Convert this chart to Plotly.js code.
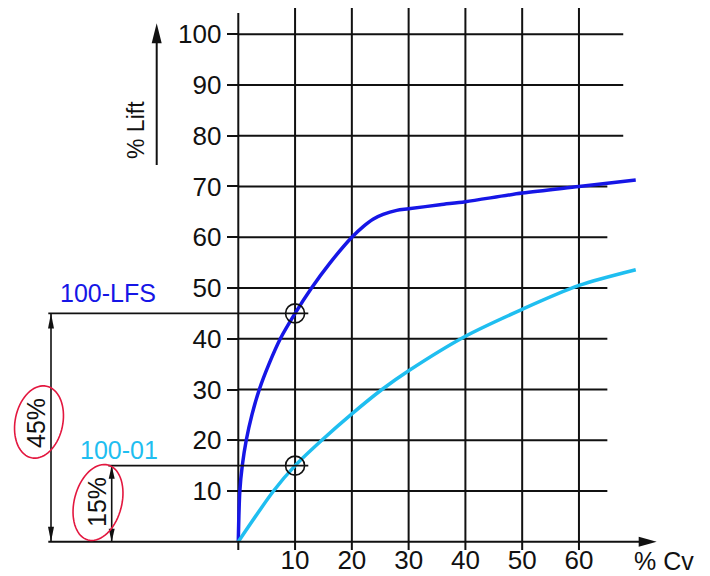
<!DOCTYPE html>
<html><head><meta charset="utf-8">
<script src="https://cdn.plot.ly/plotly-3.0.1.min.js"></script>
<style>html,body{margin:0;padding:0;background:#fff}#chart{width:710px;height:576px}</style>
</head><body><div id="chart"></div>
<script>
// ---- data ----
const seriesNames = ['100-LFS', '100-01'];
const cvLFS   = [0, 0.27, 0.7, 1.4, 2.4, 3.7, 5.4, 7.4, 10, 12.9, 16.2, 20, 22, 23.8, 25.5, 27.9, 30, 35.5, 40, 50, 60, 70];
const liftLFS = [0, 10, 15, 20, 25, 30, 35, 40, 45, 50, 55, 60, 62.1, 63.6, 64.5, 65.3, 65.6, 66.4, 67.0, 68.7, 70, 71.3];
const cv01    = [0, 6.2, 10, 14.7, 20, 25.3, 30, 40, 50, 60, 70];
const lift01  = [0, 10, 15, 20, 25.2, 30, 33.7, 40.5, 45.8, 50.5, 53.6];
const markCv   = [10, 10];
const markLift = [45, 15];
const spanLabels = ['45%', '15%'];
const xTicks    = [0, 10, 20, 30, 40, 50, 60];
const xTickText = ['', '10', '20', '30', '40', '50', '60'];
const yTicks    = [10, 20, 30, 40, 50, 60, 70, 80, 90, 100];
const yTickText = ['10', '20', '30', '40', '50', '60', '70', '80', '90', '100'];
const xTitle = '% Cv';
const yTitle = '% Lift';

// ---- geometry ----
const W = 710, H = 576;
const XMIN = -41.97, XMAX = 83.08, YMIN = -6.74, YMAX = 106.74;
const KX = W / (XMAX - XMIN), KY = H / (YMAX - YMIN);
const px = p => XMIN + p / KX;   // pixel x -> data x
const py = p => YMAX - p / KY;   // pixel y -> data y
const BLK = '#111111', BLUE = '#1616e6', CYAN = '#1fbef0', RED = '#e3173f';
const FONT = '"Liberation Sans", Arial, Helvetica, sans-serif';

const shapes = [];
function line(x0, y0, x1, y1, w, layer) {
  shapes.push({type: 'line', xref: 'x', yref: 'y', x0, y0, x1, y1,
    line: {color: BLK, width: w}, layer: layer || 'above'});
}
function tri(tx, ty, dir, len, wid) {
  const lx = len / KX, ly = len / KY, wx = wid / 2 / KX, wy = wid / 2 / KY;
  let pts;
  if (dir === 'right') pts = [[tx, ty], [tx - lx, ty + wy], [tx - lx, ty - wy]];
  if (dir === 'up')    pts = [[tx, ty], [tx - wx, ty - ly], [tx + wx, ty - ly]];
  if (dir === 'down')  pts = [[tx, ty], [tx - wx, ty + ly], [tx + wx, ty + ly]];
  shapes.push({type: 'path', xref: 'x', yref: 'y',
    path: 'M' + pts.map(p => p[0] + ',' + p[1]).join('L') + 'Z',
    fillcolor: BLK, line: {width: 0}});
}
function ellipse(cx, cy, a, b, deg) {
  const th = deg * Math.PI / 180;
  const ux = Math.sin(th), uy = -Math.cos(th), vx = Math.cos(th), vy = Math.sin(th);
  let d = '';
  for (let i = 0; i <= 72; i++) {
    const t = i / 72 * 2 * Math.PI;
    const X = cx + a * Math.cos(t) * ux + b * Math.sin(t) * vx;
    const Y = cy + a * Math.cos(t) * uy + b * Math.sin(t) * vy;
    d += (i ? 'L' : 'M') + px(X) + ',' + py(Y);
  }
  shapes.push({type: 'path', xref: 'x', yref: 'y', path: d + 'Z',
    line: {color: RED, width: 1.6}});
}

// grid
yTicks.forEach(v => line(0, v, v >= 80 ? 67.8 : 65, v, 2, 'below'));
xTicks.forEach(x => line(x, py(550), x, x === 0 ? py(13) : py(8), 2, 'below'));
// x axis with arrow
line(px(48.3), 0, px(656.7) - 16 / KX, 0, 2);
tri(px(656.7), 0, 'right', 18, 10);
// y title arrow
line(px(156.7), py(165), px(156.7), py(23.3) - 18 / KY, 2);
tri(px(156.7), py(23.3), 'up', 20, 10);
// dimension lines
line(px(48.3), markLift[0], px(308.3), markLift[0], 1.6);
line(px(51), 0, px(51), markLift[0], 1.6);
tri(px(51), markLift[0], 'up', 15, 6);
tri(px(51), 0, 'down', 15, 6);
line(px(108.3), markLift[1], px(308.3), markLift[1], 1.6);
line(px(111.7), 0, px(111.7), markLift[1], 1.6);
tri(px(111.7), markLift[1], 'up', 13, 6);
tri(px(111.7), 0, 'down', 13, 6);
// red ellipses
ellipse(39, 422, 36.6, 23.8, 11.8);
ellipse(98, 502.5, 38.8, 23.7, 14.9);

const annotations = [
  {x: px(107.5), y: py(293), text: seriesNames[0], font: {size: 25, color: BLUE}},
  {x: px(119), y: py(450), text: seriesNames[1], font: {size: 25, color: CYAN}},
  {x: px(136), y: py(130), text: yTitle, textangle: -90, font: {size: 23, color: BLK}},
  {x: px(664), y: py(561), text: xTitle, font: {size: 25, color: BLK}, borderpad: 0},
  {x: px(36), y: py(423), text: spanLabels[0], textangle: -90, font: {size: 25, color: BLK}},
  {x: px(97), y: py(502), text: spanLabels[1], textangle: -90, font: {size: 25, color: BLK}}
].map(a => Object.assign({xref: 'x', yref: 'y', showarrow: false, xanchor: 'center', yanchor: 'middle'}, a));

const traces = [
  {x: cvLFS, y: liftLFS, type: 'scatter', mode: 'lines', name: seriesNames[0],
   line: {color: BLUE, width: 3.5, shape: 'spline', smoothing: 0.85}, hoverinfo: 'skip'},
  {x: cv01, y: lift01, type: 'scatter', mode: 'lines', name: seriesNames[1],
   line: {color: CYAN, width: 3.5, shape: 'spline', smoothing: 0.8}, hoverinfo: 'skip'},
  {x: markCv, y: markLift, type: 'scatter', mode: 'markers', name: 'marks',
   marker: {symbol: 'circle-open', size: 19, color: BLK, line: {width: 1.6, color: BLK}}, hoverinfo: 'skip'}
];

const layout = {
  width: W, height: H, margin: {l: 0, r: 0, t: 0, b: 0},
  paper_bgcolor: '#ffffff', plot_bgcolor: '#ffffff', showlegend: false,
  font: {family: FONT, color: BLK, size: 26},
  xaxis: {range: [XMIN, XMAX], anchor: 'free', position: (0 - YMIN) / (YMAX - YMIN),
    tickmode: 'array', tickvals: xTicks, ticktext: xTickText, ticks: '',
    showgrid: false, zeroline: false, showline: false, tickfont: {size: 26, color: BLK}, fixedrange: true},
  yaxis: {range: [YMIN, YMAX], anchor: 'free', position: (0 - XMIN) / (XMAX - XMIN),
    tickmode: 'array', tickvals: yTicks, ticktext: yTickText,
    ticks: 'outside', ticklen: 11.6, tickwidth: 2, tickcolor: BLK,
    showgrid: false, zeroline: false, showline: false, tickfont: {size: 26, color: BLK}, fixedrange: true},
  shapes: shapes, annotations: annotations
};

Plotly.newPlot('chart', traces, layout, {staticPlot: true, displayModeBar: false});
</script>
</body></html>
